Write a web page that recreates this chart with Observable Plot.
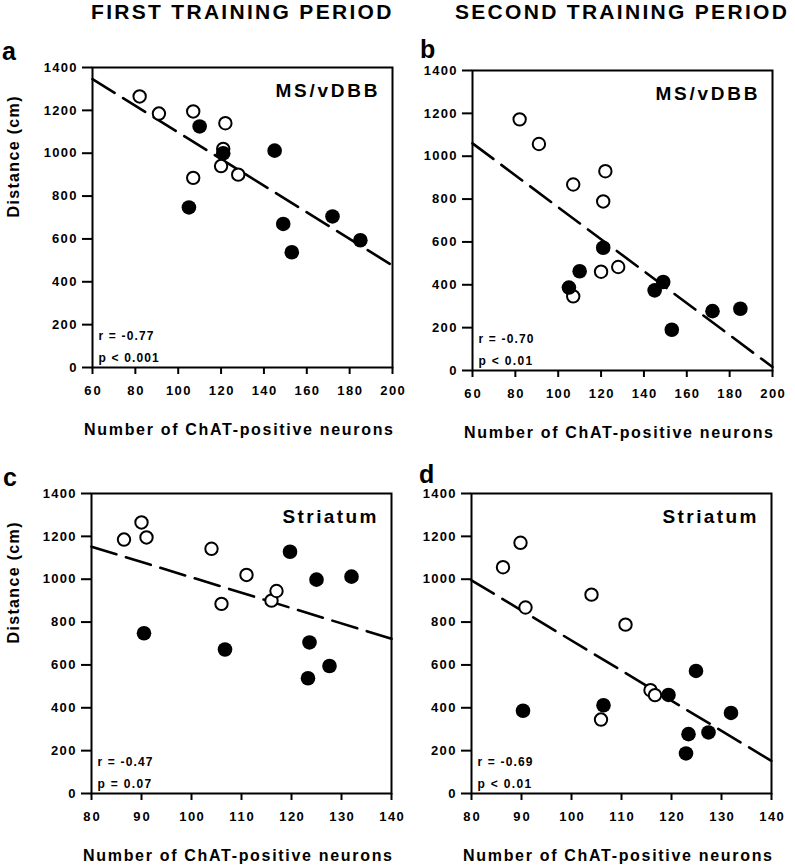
<!DOCTYPE html>
<html>
<head>
<meta charset="utf-8">
<script src="https://cdn.jsdelivr.net/npm/d3@7"></script>
<script src="https://cdn.jsdelivr.net/npm/@observablehq/plot@0.6"></script>
<style>
  body { margin: 0; background: #fff; }
  #root { position: relative; width: 795px; height: 868px; font-family: "Liberation Sans", Arial, sans-serif; color: #000; overflow: hidden; }
  .title { position: absolute; font-weight: bold; font-size: 21px; line-height: 24px; letter-spacing: 2.3px; white-space: nowrap; }
  .plabel { position: absolute; font-weight: bold; font-size: 25px; line-height: 25px; }
  .panel { position: absolute; }
  .panel svg { max-width: none !important; }
</style>
</head>
<body>
<div id="root">
  <div class="title" style="left:91px; top:0px;">FIRST TRAINING PERIOD</div>
  <div class="title" style="left:455px; top:0px;">SECOND TRAINING PERIOD</div>
  <div class="plabel" style="left:2px; top:39px;">a</div>
  <div class="plabel" style="left:420px; top:37px;">b</div>
  <div class="plabel" style="left:3px; top:465px;">c</div>
  <div class="plabel" style="left:419px; top:462px;">d</div>
</div>
<script>
// ---------- data ----------
const yTicks = [0, 200, 400, 600, 800, 1000, 1200, 1400];
const xTicksMS = [60, 80, 100, 120, 140, 160, 180, 200];
const xTicksStr = [80, 90, 100, 110, 120, 130, 140];
const xLabel = "Number of ChAT-positive neurons";
const yLabel = "Distance (cm)";

// Panel a: MS/vDBB, first training period
const aOpenX = [82, 91, 107, 122, 121, 120, 107, 128];
const aOpenY = [1265, 1185, 1195, 1140, 1020, 940, 885, 900];
const aFilledX = [110, 121, 145, 105, 149, 153, 172, 185];
const aFilledY = [1125, 1000, 1012, 747, 670, 538, 705, 594];
const aFitX = [60, 200];
const aFitY = [1346, 476];

// Panel b: MS/vDBB, second training period
const bOpenX = [82, 91, 107, 122, 121, 120, 128, 107];
const bOpenY = [1172, 1057, 868, 930, 789, 461, 483, 346];
const bFilledX = [121, 110, 105, 145, 149, 153, 172, 185];
const bFilledY = [573, 463, 387, 374, 413, 190, 277, 288];
const bFitX = [60, 200];
const bFitY = [1060, 16];

// Panel c: Striatum, first training period
const cOpenX = [86.5, 90, 91, 104, 111, 106, 116, 117];
const cOpenY = [1185, 1265, 1195, 1142, 1020, 885, 900, 945];
const cFilledX = [90.5, 106.7, 119.7, 125, 132, 123.6, 123.3, 127.6];
const cFilledY = [748, 672, 1128, 998, 1012, 705, 538, 595];
const cFitX = [80, 140];
const cFitY = [1152, 722];

// Panel d: Striatum, second training period
const dOpenX = [86.3, 89.8, 90.8, 104, 110.8, 115.8, 116.7, 105.9];
const dOpenY = [1056, 1170, 868, 928, 788, 482, 459, 345];
const dFilledX = [90.3, 106.4, 119.4, 124.9, 123.4, 122.9, 127.4, 131.9];
const dFilledY = [386, 412, 460, 572, 277, 187, 285, 376];
const dFitX = [80, 140];
const dFitY = [995, 152];

const regions = ["MS/vDBB", "MS/vDBB", "Striatum", "Striatum"];
const rTexts = ["r = -0.77", "r = -0.70", "r = -0.47", "r = -0.69"];
const pTexts = ["p < 0.001", "p < 0.01", "p = 0.07", "p < 0.01"];

// ---------- drawing ----------
const zip = (xs, ys) => xs.map((x, i) => ({x, y: ys[i]}));

function panel(cfg) {
  const open = zip(cfg.openX, cfg.openY);
  const filled = zip(cfg.filledX, cfg.filledY);
  const fit = zip(cfg.fitX, cfg.fitY);
  const marks = [
    Plot.axisX({ticks: cfg.xTicks, tickSize: 7, tickPadding: 11, strokeWidth: 2, fontSize: 13, label: null, tickFormat: d => String(d)}),
    Plot.axisY({ticks: yTicks, tickSize: 10, tickPadding: 6, strokeWidth: 2, fontSize: 13, label: null, tickFormat: d => String(d)}),
    Plot.frame({strokeWidth: 2, stroke: "#000"}),
    Plot.line(fit, {x: "x", y: "y", stroke: "#000", strokeWidth: 2.6, strokeDasharray: "26,10"}),
    Plot.dot(open, {x: "x", y: "y", r: 6.2, stroke: "#000", strokeWidth: 2, fill: "#fff"}),
    Plot.dot(filled, {x: "x", y: "y", r: 7.3, fill: "#000", stroke: "none"}),
    Plot.text([cfg.region], {text: d => d, frameAnchor: "top-right", dx: -15, dy: 29, textAnchor: "end", lineAnchor: "bottom", fontSize: 19, fontWeight: "bold"}),
    Plot.text([cfg.r], {text: d => d, frameAnchor: "bottom-left", dx: 6, dy: -28, textAnchor: "start", lineAnchor: "bottom", fontSize: 12, fontWeight: "bold"}),
    Plot.text([cfg.p], {text: d => d, frameAnchor: "bottom-left", dx: 6, dy: -6, textAnchor: "start", lineAnchor: "bottom", fontSize: 12, fontWeight: "bold"}),
    Plot.text([xLabel], {text: d => d, frameAnchor: "bottom", dx: -4, dy: 67, lineAnchor: "bottom", fontSize: 16, fontWeight: "bold"})
  ];
  if (cfg.showY) {
    marks.push(Plot.text([yLabel], {text: d => d, frameAnchor: "left", dx: 13.5 - cfg.ml, rotate: -90, lineAnchor: "middle", fontSize: 16, fontWeight: "bold"}));
  }
  const svg = Plot.plot({
    width: cfg.ml + 300 + 20,
    height: 405,
    marginLeft: cfg.ml,
    marginRight: 20,
    marginTop: 30,
    marginBottom: 75,
    style: {fontFamily: "'Liberation Sans', Arial, sans-serif", fontWeight: "bold", color: "#000", background: "transparent", overflow: "visible"},
    x: {domain: cfg.xDomain},
    y: {domain: [0, 1400]},
    marks
  });
  const div = document.createElement("div");
  div.className = "panel";
  div.style.left = cfg.left + "px";
  div.style.top = cfg.top + "px";
  div.style.width = (cfg.ml + 320) + "px";
  div.appendChild(svg);
  document.getElementById("root").appendChild(div);
  // explicit text sizing by role; spread via textLength
  d3.select(svg).selectAll("text").each(function() {
    const t = this.textContent;
    let fs, target;
    if (t === xLabel) { fs = 16; target = 309; }
    else if (t === yLabel) { fs = 16; target = 121; }
    else if (t === "MS/vDBB") { fs = 19; target = 102; }
    else if (t === "Striatum") { fs = 19; target = 94; }
    else if (rTexts.includes(t)) { fs = 12; target = 55; }
    else if (pTexts.includes(t)) { fs = 12; target = t.length * 6.7; }
    else { fs = 13; target = t.length * 8.2; }
    this.setAttribute("font-size", fs);
    this.style.fontSize = fs + "px";
    this.style.fontWeight = "bold";
    this.style.letterSpacing = "0px";
    if (t.length > 1) {
      this.setAttribute("textLength", target.toFixed(2));
      this.setAttribute("lengthAdjust", "spacing");
    }
  });
}

panel({left: 0, top: 37, ml: 92, showY: true, xDomain: [60, 200], xTicks: xTicksMS,
  openX: aOpenX, openY: aOpenY, filledX: aFilledX, filledY: aFilledY, fitX: aFitX, fitY: aFitY,
  region: regions[0], r: rTexts[0], p: pTexts[0]});
panel({left: 392, top: 40, ml: 80, showY: false, xDomain: [60, 200], xTicks: xTicksMS,
  openX: bOpenX, openY: bOpenY, filledX: bFilledX, filledY: bFilledY, fitX: bFitX, fitY: bFitY,
  region: regions[1], r: rTexts[1], p: pTexts[1]});
panel({left: 0, top: 463, ml: 91, showY: true, xDomain: [80, 140], xTicks: xTicksStr,
  openX: cOpenX, openY: cOpenY, filledX: cFilledX, filledY: cFilledY, fitX: cFitX, fitY: cFitY,
  region: regions[2], r: rTexts[2], p: pTexts[2]});
panel({left: 391, top: 463, ml: 80, showY: false, xDomain: [80, 140], xTicks: xTicksStr,
  openX: dOpenX, openY: dOpenY, filledX: dFilledX, filledY: dFilledY, fitX: dFitX, fitY: dFitY,
  region: regions[3], r: rTexts[3], p: pTexts[3]});
</script>
</body>
</html>
